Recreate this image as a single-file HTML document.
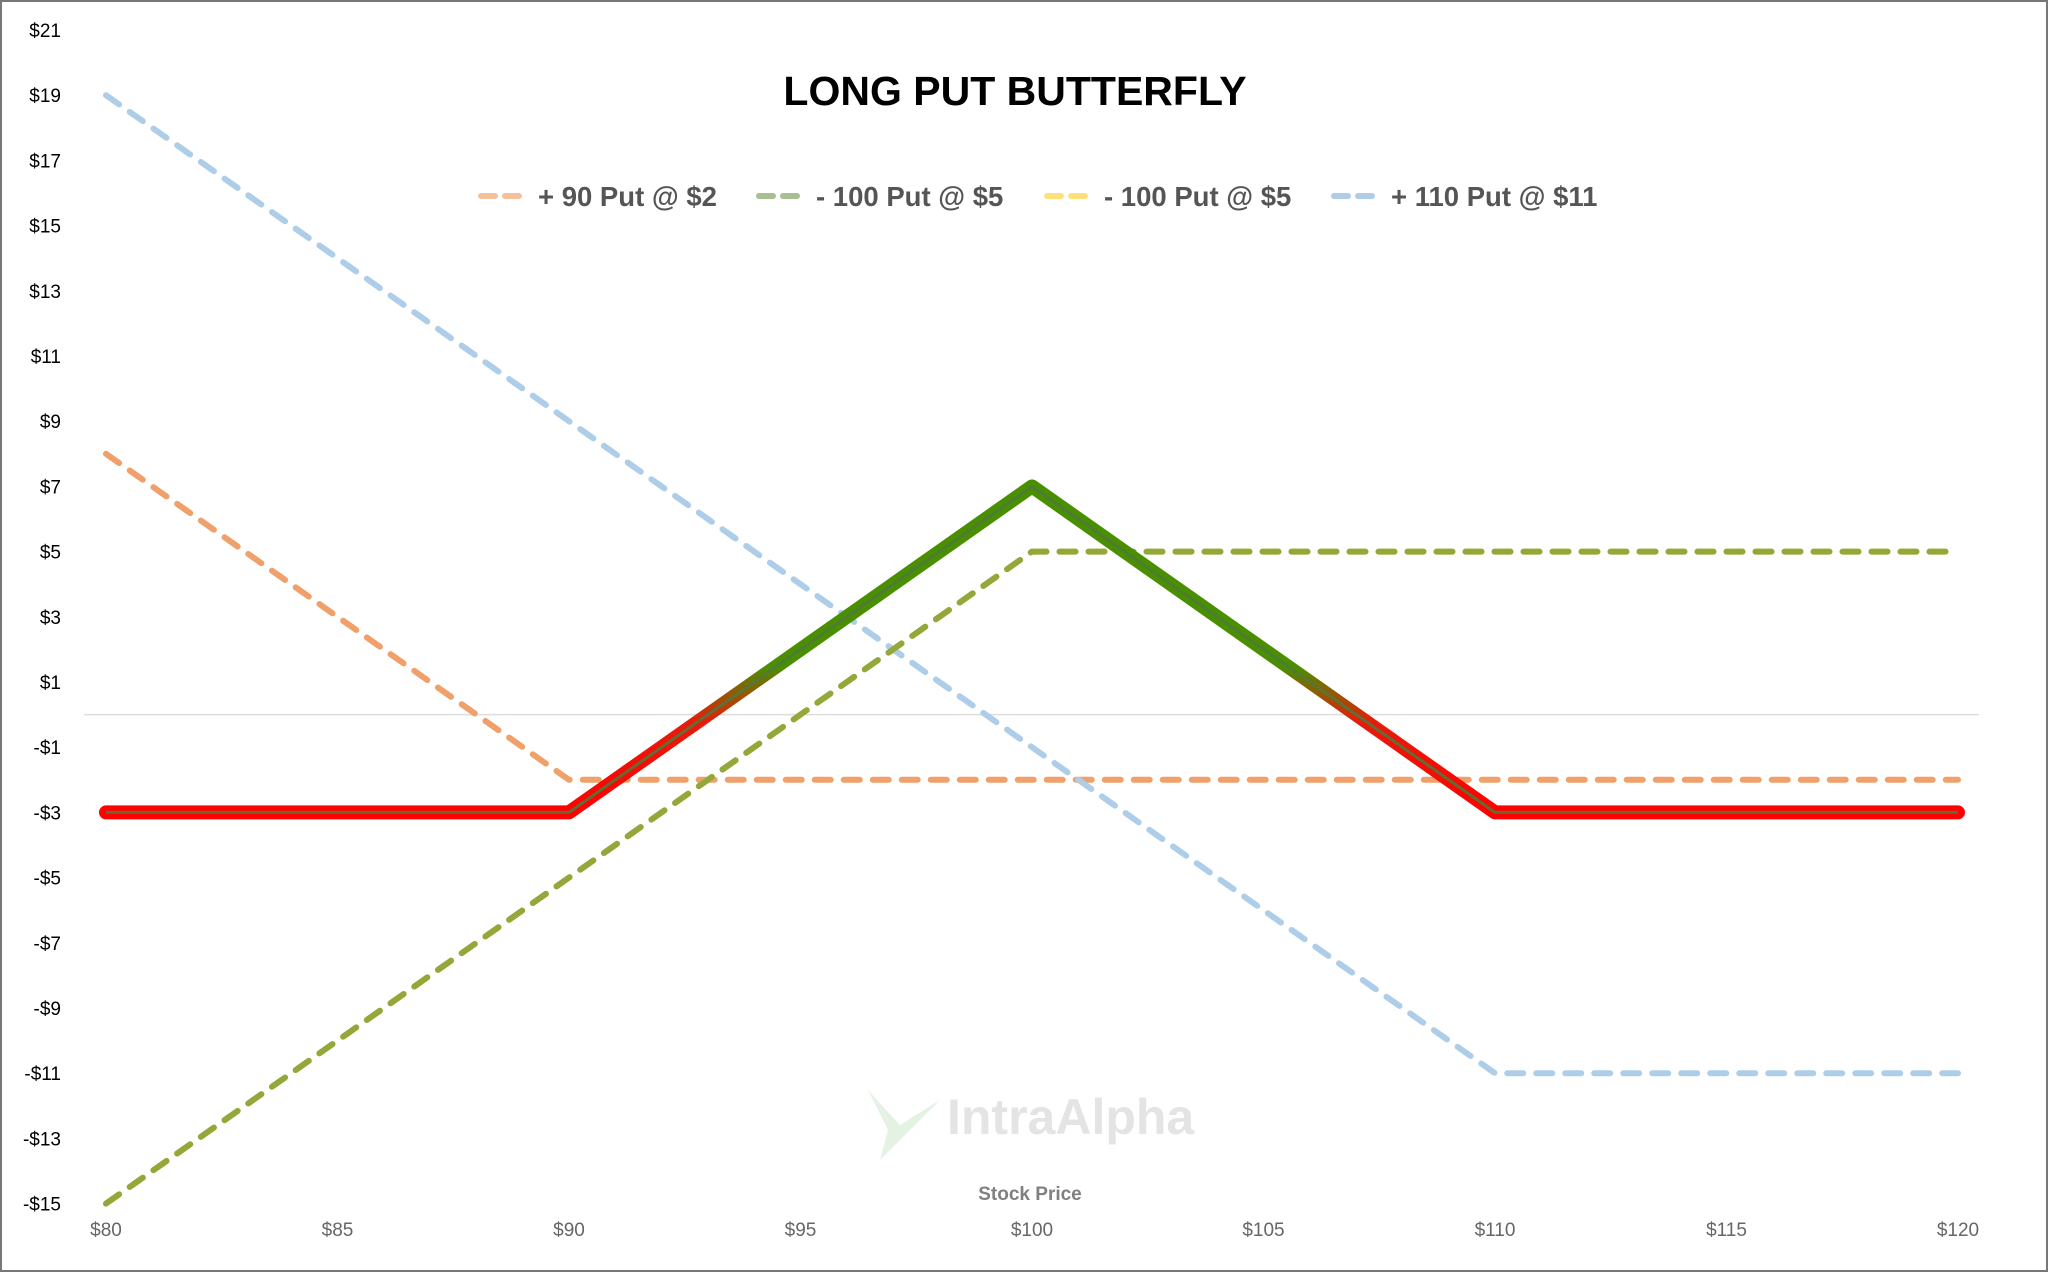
<!DOCTYPE html>
<html><head><meta charset="utf-8"><style>
html,body{margin:0;padding:0;background:#fff}
svg{display:block}
text{font-family:"Liberation Sans",sans-serif}
</style></head><body>
<svg id="chart" width="2048" height="1272" viewBox="0 0 2048 1272">
<defs>
<linearGradient id="pnlGrad" gradientUnits="userSpaceOnUse" x1="0" y1="486" x2="0" y2="815">
<stop offset="0" stop-color="#4a8f00"/>
<stop offset="0.55" stop-color="#4a8f00"/>
<stop offset="0.72" stop-color="#e81a0a"/>
<stop offset="1" stop-color="#ff0000"/>
</linearGradient>
</defs>
<rect x="1" y="1" width="2046" height="1270" fill="#fff" stroke="#777" stroke-width="2"/>
<text x="1015" y="105" text-anchor="middle" font-size="41" font-weight="bold" fill="#000">LONG PUT BUTTERFLY</text>
<g id="legend"></g>
<g id="yaxis"></g>
<g id="xaxis"></g>
<text x="1030" y="1200" text-anchor="middle" font-size="19" font-weight="bold" fill="#808080">Stock Price</text>
<g opacity="0.55">
<polygon points="868,1090 900,1125 940,1100 905,1135 880,1160 888,1130" fill="#cfe8cf"/>
<text x="947" y="1134" font-size="50" font-weight="bold" fill="#cfcfcf">IntraAlpha</text>
</g>
<g id="series"></g>
</svg>
<script>
const prices = [80, 90, 100, 110, 120];
const put90 = [8, -2, -2, -2, -2];
const shortPut100a = [-15, -5, 5, 5, 5];
const shortPut100b = [-15, -5, 5, 5, 5];
const put110 = [19, 9, -1, -11, -11];
const totalPnl = [-3, -3, 7, -3, -3];
const yTicks = [21,19,17,15,13,11,9,7,5,3,1,-1,-3,-5,-7,-9,-11,-13,-15];
const xTicks = [80,85,90,95,100,105,110,115,120];
const legendLabels = ["+ 90 Put @ $2","- 100 Put @ $5","- 100 Put @ $5","+ 110 Put @ $11"];

const NS = "http://www.w3.org/2000/svg";
const xS = v => 106 + (v - 80) * 46.3;
const yS = v => 30 + (21 - v) * 32.6;
function mk(tag, attrs, parent){const e=document.createElementNS(NS,tag);for(const k in attrs)e.setAttribute(k,attrs[k]);parent.appendChild(e);return e;}
const yax=document.getElementById('yaxis'), xax=document.getElementById('xaxis'), ser=document.getElementById('series'), leg=document.getElementById('legend');

yTicks.forEach(v=>{
  const t=mk('text',{x:61,y:yS(v)+7,'text-anchor':'end','font-size':19,fill:'#000'},yax);
  t.textContent=(v<0?'-$':'$')+Math.abs(v);
  
  
});
xTicks.forEach(v=>{
  const t=mk('text',{x:xS(v),y:1236,'text-anchor':'middle','font-size':19,fill:'#666'},xax);
  t.textContent='$'+v;
  
  
});
const zl=mk('line',{x1:84,x2:1979,y1:yS(0),y2:yS(0),stroke:'#ddd','stroke-width':1.5},ser);



function pts(vals){return prices.map((p,i)=>xS(p)+','+yS(vals[i])).join(' ');}
const dashed=[[put90,'#f0a06a','put-90-line'],[put110,'#aecde9','put-110-line'],[shortPut100b,'#ffe07a','short-put-100b-line'],[shortPut100a,'#93a83a','short-put-100a-line']];
dashed.forEach(([vals,col,name])=>{
  const l=mk('polyline',{points:pts(vals),fill:'none',stroke:col,'stroke-width':6,'stroke-dasharray':'16 13','stroke-linecap':'round','stroke-linejoin':'round'},ser);
  
  
});
const tot=mk('polyline',{points:pts(totalPnl),fill:'none',stroke:'url(#pnlGrad)','stroke-width':14,'stroke-linecap':'round','stroke-linejoin':'round'},ser);


const core=mk('polyline',{points:pts(totalPnl),fill:'none',stroke:'#4d7a3c','stroke-width':3,'stroke-linejoin':'round',opacity:0.85},ser);



const legCols=['#f5c09a','#a8c090','#ffe07a','#aecde9'];
const legX=[477,755,1043,1330];
legendLabels.forEach((lab,i)=>{
  const g=mk('g',{},leg);
  
  
  mk('line',{x1:legX[i]+4,x2:legX[i]+50,y1:196,y2:196,stroke:legCols[i],'stroke-width':6,'stroke-dasharray':'14 10','stroke-linecap':'round'},g);
  const t=mk('text',{x:legX[i]+61,y:206,'font-size':27.5,'font-weight':'bold',fill:'#555'},g);
  t.textContent=lab;
});
</script>
</body></html>
